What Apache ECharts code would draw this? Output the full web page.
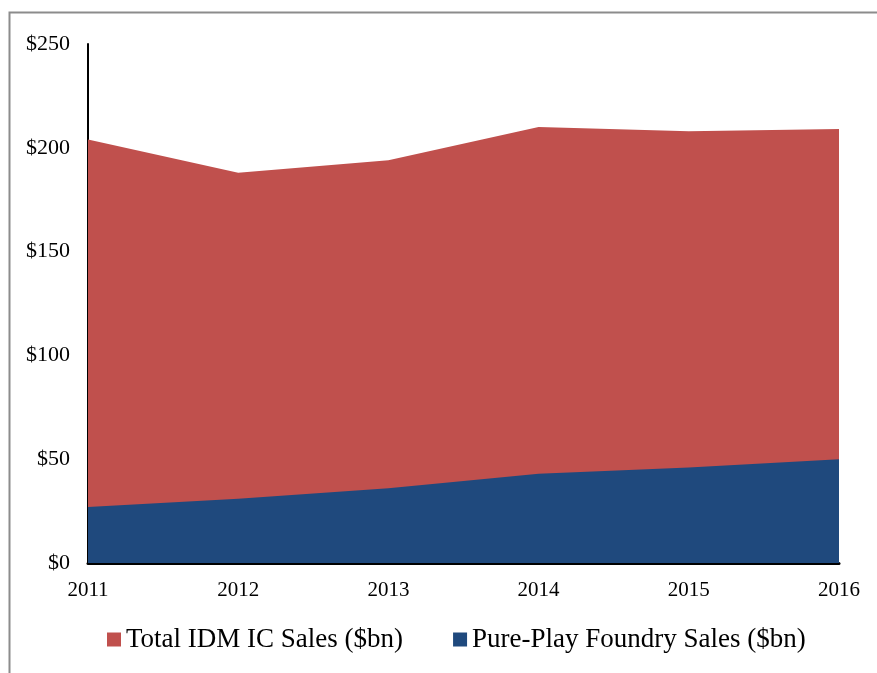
<!DOCTYPE html>
<html>
<head>
<meta charset="utf-8">
<script src="https://cdn.jsdelivr.net/npm/echarts@6/dist/echarts.min.js"></script>
<style>
  html, body { margin: 0; padding: 0; background: #fff; }
  #chart { width: 877px; height: 673px; }
</style>
</head>
<body>
<div id="chart"></div>
<script>
var years = ['2011', '2012', '2013', '2014', '2015', '2016'];
// values, $bn
var idmSales = [204, 188, 194, 210, 208, 209];
var foundrySales = [27, 31, 36, 43, 46, 50];
var yTicks = [0, 50, 100, 150, 200, 250];

var chart = echarts.init(document.getElementById('chart'));

var font = '"Liberation Serif", "Times New Roman", serif';

var option = {
    backgroundColor: '#fff',
    animation: false,
    graphic: [
        {
            // outer frame, runs off the right and bottom edge
            type: 'rect',
            shape: { x: 9.5, y: 12.5, width: 900, height: 700 },
            style: { fill: 'none', stroke: '#8c8c8c', lineWidth: 2 }
        }
    ],
    grid: { left: 88, right: 38, top: 44, bottom: 110 },
    legend: {
        left: 107,
        top: 626,
        padding: 0,
        itemWidth: 14,
        itemHeight: 14,
        itemGap: 50,
        icon: 'rect',
        textStyle: { fontFamily: font, fontSize: 27, color: '#000' },
        data: ['Total IDM IC Sales ($bn)', 'Pure-Play Foundry Sales ($bn)']
    },
    xAxis: {
        type: 'category',
        data: years,
        boundaryGap: false,
        axisLine: { lineStyle: { color: '#000', width: 3 } },
        axisTick: { show: false },
        axisLabel: { fontFamily: font, fontSize: 21, color: '#000', margin: 17 }
    },
    yAxis: {
        type: 'value',
        min: yTicks[0],
        max: yTicks[yTicks.length - 1],
        interval: 50,
        axisLine: { show: true, lineStyle: { color: '#000', width: 2 } },
        axisTick: { show: false },
        splitLine: { show: false },
        axisLabel: {
            fontFamily: font, fontSize: 22, color: '#000', margin: 18,
            formatter: function (v) { return '$' + v; }
        }
    },
    series: [
        {
            name: 'Total IDM IC Sales ($bn)',
            type: 'line',
            data: idmSales,
            symbol: 'none',
            lineStyle: { width: 0 },
            itemStyle: { color: '#C0504D' },
            areaStyle: { color: '#C0504D', opacity: 1 },
            z: 1
        },
        {
            name: 'Pure-Play Foundry Sales ($bn)',
            type: 'line',
            data: foundrySales,
            symbol: 'none',
            lineStyle: { width: 0 },
            itemStyle: { color: '#1F497D' },
            areaStyle: { color: '#1F497D', opacity: 1 },
            z: 2
        }
    ]
};

chart.setOption(option);
</script>
</body>
</html>
